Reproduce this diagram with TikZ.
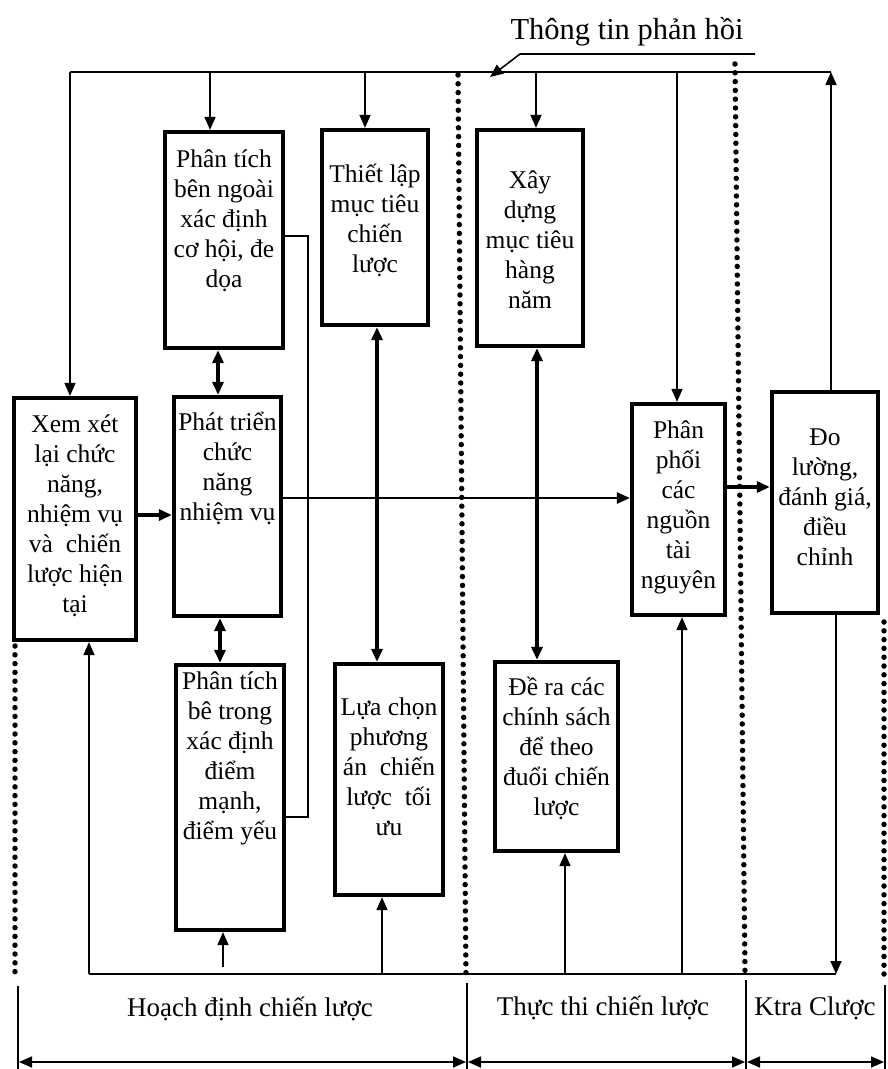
\documentclass[tikz,border=0pt]{standalone}
\usepackage{fontspec}
\setmainfont{Liberation Serif}
\usetikzlibrary{arrows.meta}
\newcommand\firstl{\rule{0pt}{24pt}}
\begin{document}
\begin{tikzpicture}[x=1pt,y=-1pt,
  Tp/.tip={Triangle[length=13pt,width=11pt]},
  box/.style={draw,line width=4.3pt,inner sep=0pt},
  txt/.style={anchor=north,inner sep=0pt,align=center,font=\fontsize{25.5}{30}\selectfont},
  arr/.style={line width=1.6pt,-Tp},
  thk/.style={line width=3.4pt,-Tp},
  mid/.style={line width=2.6pt,-Tp},
  dbl/.style={line width=3.6pt,Tp-Tp},
  thinl/.style={line width=1.6pt},
  dots/.style={line width=5.5pt,line cap=round,dash pattern=on 0pt off 8.8pt},
  lab/.style={anchor=base,inner sep=0pt,font=\fontsize{27}{32}\selectfont},
  dim/.style={line width=1.6pt,Tp-Tp},
]
\fill[white] (0,0) rectangle (887,1069);
\useasboundingbox (0,0) rectangle (887,1069);

% boxes
\node[box,minimum width=122pt,minimum height=242pt] (b1) at (75,519) {};
\node[box,minimum width=107pt,minimum height=219pt] (b2) at (227.5,506.5) {};
\node[box,minimum width=118pt,minimum height=216pt] (b3) at (224,240) {};
\node[box,minimum width=106pt,minimum height=195pt] (b4) at (375,227.5) {};
\node[box,minimum width=108pt,minimum height=265pt] (b5) at (230,797.5) {};
\node[box,minimum width=108pt,minimum height=231pt] (b6) at (389,779.5) {};
\node[box,minimum width=106pt,minimum height=216pt] (b7) at (530,238) {};
\node[box,minimum width=123pt,minimum height=189pt] (b8) at (556.5,756.5) {};
\node[box,minimum width=93pt,minimum height=211pt] (b9) at (678.5,509.5) {};
\node[box,minimum width=106pt,minimum height=221pt] (b10) at (825,502.5) {};

% texts
\node[txt] (t1) at (75,408) {\firstl Xem xét\\lại chức\\năng,\\nhiệm vụ\\và\ \ chiến\\lược hiện\\tại};
\node[txt] (t2) at (227.5,406) {\firstl Phát triển\\chức\\năng\\nhiệm vụ};
\node[txt] (t3) at (224,143) {\firstl Phân tích\\bên ngoài\\xác định\\cơ hội, đe\\dọa};
\node[txt] (t4) at (375,158) {\firstl Thiết lập\\mục tiêu\\chiến\\lược};
\node[txt] (t5) at (230,665) {\firstl Phân tích\\bê trong\\xác định\\điểm\\mạnh,\\điểm yếu};
\node[txt] (t6) at (389,691) {\firstl Lựa chọn\\phương\\án\ \ chiến\\lược\ \ tối\\ưu};
\node[txt] (t7) at (530,164) {\firstl Xây\\dựng\\mục tiêu\\hàng\\năm};
\node[txt] (t8) at (556.5,671) {\firstl Đề ra các\\chính sách\\để theo\\đuổi chiến\\lược};
\node[txt] (t9) at (678.5,414) {\firstl Phân\\phối\\các\\nguồn\\tài\\nguyên};
\node[txt] (t10) at (825,421) {\firstl Đo\\lường,\\đánh giá,\\điều\\chỉnh};

% feedback loop, top
\coordinate (tl) at (70,72);
\coordinate (tr) at (831,72);
\draw[thinl] (tl) -- (tr);
\draw[arr] (tl) -- (tl |- b1.north);
\draw[arr] ([xshift=-14pt]b3.north |- tl) -- ([xshift=-14pt]b3.north);
\draw[arr] ([xshift=-10pt]b4.north |- tl) -- ([xshift=-10pt]b4.north);
\draw[arr] ([xshift=6pt]b7.north |- tl) -- ([xshift=6pt]b7.north);
\draw[arr] ([xshift=-1.5pt]b9.north |- tl) -- ([xshift=-1.5pt]b9.north);
\draw[arr] (tr |- b10.north) -- (tr);

% feedback loop, bottom
\coordinate (bl) at (89,974);
\coordinate (br) at (836,974);
\coordinate (s5) at (223,967);
\draw[thinl] (bl) -- (br);
\draw[arr] (br |- b10.south) -- (br);
\draw[arr] (bl) -- (bl |- b1.south);
\draw[arr] (s5) -- (s5 |- b5.south);
\draw[arr] ([xshift=-7pt]b6.south |- bl) -- ([xshift=-7pt]b6.south);
\draw[arr] ([xshift=8.5pt]b8.south |- bl) -- ([xshift=8.5pt]b8.south);
\draw[arr] ([xshift=3.5pt]b9.south |- bl) -- ([xshift=3.5pt]b9.south);

% double arrows
\draw[dbl] ([xshift=-6pt]b3.south) -- ([xshift=-6pt]b3.south |- b2.north);
\draw[dbl] ([xshift=-7.5pt]b2.south) -- ([xshift=-7.5pt]b2.south |- b5.north);
\draw[dbl] ([xshift=2pt]b4.south) -- ([xshift=2pt]b4.south |- b6.north);
\draw[dbl] ([xshift=7pt]b7.south) -- ([xshift=7pt]b7.south |- b8.north);

% horizontal flow
\draw[thk] ([yshift=4pt]b1.east) -- ([yshift=4pt]b1.east -| b2.west);
\draw[mid] ([yshift=8.5pt]b2.east) -- ([yshift=8.5pt]b2.east -| b9.west);
\draw[thk] ([yshift=22.5pt]b9.east) -- ([yshift=22.5pt]b9.east -| b10.west);

% side link between the two analyses
\draw[thinl] ([yshift=4pt]b3.east) -- ++(23,0) |- ([yshift=-19.5pt]b5.east);

% title with pointer
\node[anchor=base,inner sep=0pt,font=\fontsize{30.5}{36}\selectfont] (fb) at (627,39) {Thông tin phản hồi};
\coordinate (u1) at (520,54);
\coordinate (u2) at (755,54);
\coordinate (fbt) at (490,77);
\draw[thinl,-Tp] (u2) -- (u1) -- (fbt);

% dotted separators
\draw[dots] (15,646) -- (15,980);
\draw[dots] (458,75) -- (466,978);
\draw[dots] (735,64) -- (745,972);
\draw[dots] (884,622) -- (884,975);
\draw[thinl] (18,986) -- (18,1069);
\draw[thinl] (467,983) -- (467,1069);
\draw[thinl] (746,980) -- (746,1069);
\draw[thinl] (885,985) -- (885,1069);

% phase labels and spans
\node[lab] (l1) at (250,1016) {Hoạch định chiến lược};
\node[lab] (l2) at (603,1015) {Thực thi chiến lược};
\node[lab] (l3) at (815,1015) {Ktra Clược};
\draw[dim] (19,1062) -- (466,1062);
\draw[dim] (468,1062) -- (745,1062);
\draw[dim] (747,1062) -- (884,1062);
\end{tikzpicture}
\end{document}
